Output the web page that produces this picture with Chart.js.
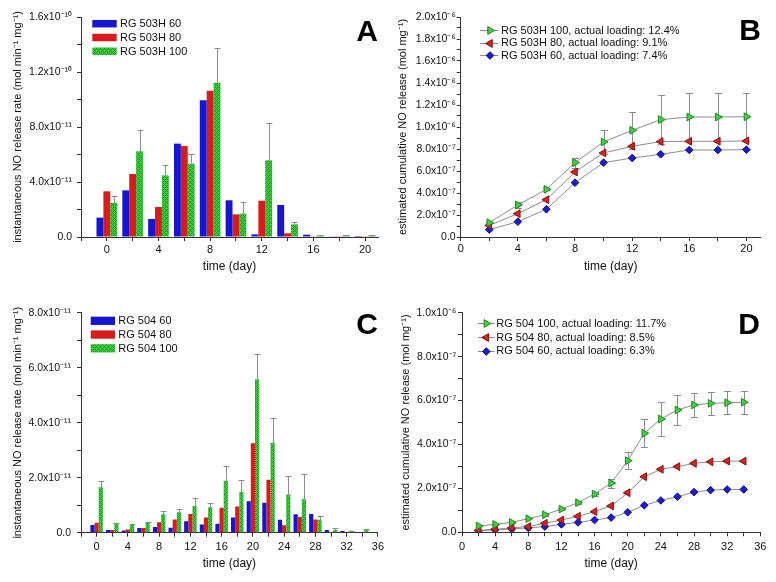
<!DOCTYPE html>
<html>
<head>
<meta charset="utf-8">
<script src="https://cdn.jsdelivr.net/npm/chart.js@4.4.1/dist/chart.umd.min.js"></script>
<style>
html,body{margin:0;padding:0;background:#fff;}
#wrap{position:relative;width:776px;height:582px;overflow:hidden;background:#fff;}
.panel{position:absolute;}
canvas{display:block;}
</style>
</head>
<body>
<div id="wrap">
  <div class="panel" style="left:0;top:0;width:388px;height:290px"><canvas id="cA" width="388" height="290"></canvas></div>
  <div class="panel" style="left:388px;top:0;width:388px;height:290px"><canvas id="cB" width="388" height="290"></canvas></div>
  <div class="panel" style="left:0;top:290px;width:388px;height:292px"><canvas id="cC" width="388" height="292"></canvas></div>
  <div class="panel" style="left:388px;top:290px;width:388px;height:292px"><canvas id="cD" width="388" height="292"></canvas></div>
</div>
<script>
// ---------------- DATA ----------------
// Panel A: instantaneous NO release rate, RG 503H (mol min-1 mg-1)
const daysA = [0, 2, 4, 6, 8, 10, 12, 14, 16, 18, 20];
const rg503h60Rate  = [1.41e-11, 3.39e-11, 1.31e-11, 6.79e-11, 9.94e-11, 2.67e-11, 0.19e-11, 2.33e-11, 0.17e-11, 0.05e-11, 0.07e-11];
const rg503h80Rate  = [3.32e-11, 4.58e-11, 2.18e-11, 6.62e-11, 10.64e-11, 1.65e-11, 2.64e-11, 0.27e-11, 0.05e-11, 0.02e-11, 0.02e-11];
const rg503h100Rate = [2.47e-11, 6.23e-11, 4.48e-11, 5.33e-11, 11.22e-11, 1.70e-11, 5.58e-11, 0.92e-11, 0.10e-11, 0.12e-11, 0.14e-11];
const rg503h100RateErr = [0.49e-11, 1.53e-11, 0.76e-11, 0.73e-11, 2.55e-11, 0.85e-11, 2.71e-11, 0.20e-11, 0.02e-11, 0.03e-11, 0.03e-11];
const labelsA = ['RG 503H 60', 'RG 503H 80', 'RG 503H 100'];

// Panel B: estimated cumulative NO release, RG 503H (mol mg-1)
const daysB = [2, 4, 6, 8, 10, 12, 14, 16, 18, 20];
const rg503h100Cum    = [1.30e-7, 2.91e-7, 4.33e-7, 6.76e-7, 8.64e-7, 9.70e-7, 10.67e-7, 10.91e-7, 10.91e-7, 10.93e-7];
const rg503h100CumErr = [0.05e-7, 0.30e-7, 0.10e-7, 0.46e-7, 1.12e-7, 1.66e-7, 2.24e-7, 2.18e-7, 2.18e-7, 2.18e-7];
const rg503h80Cum     = [1.05e-7, 2.12e-7, 3.39e-7, 5.91e-7, 7.64e-7, 8.25e-7, 8.67e-7, 8.70e-7, 8.70e-7, 8.73e-7];
const rg503h60Cum     = [0.67e-7, 1.39e-7, 2.52e-7, 4.94e-7, 6.76e-7, 7.18e-7, 7.52e-7, 7.91e-7, 7.91e-7, 7.94e-7];
const labelsB = ['RG 503H 100, actual loading: 12.4%', 'RG 503H 80, actual loading: 9.1%', 'RG 503H 60, actual loading: 7.4%'];

// Panel C: instantaneous NO release rate, RG 504 (mol min-1 mg-1)
const daysC = [0, 2, 4, 6, 8, 10, 12, 14, 16, 18, 20, 22, 24, 26, 28, 30, 32, 34];
const rg504_60Rate  = [0.28e-11, 0.10e-11, 0.08e-11, 0.17e-11, 0.21e-11, 0.18e-11, 0.42e-11, 0.30e-11, 0.33e-11, 0.55e-11, 1.14e-11, 1.09e-11, 0.47e-11, 0.67e-11, 0.68e-11, 0.10e-11, 0.06e-11, 0.01e-11];
const rg504_80Rate  = [0.36e-11, 0.10e-11, 0.12e-11, 0.17e-11, 0.38e-11, 0.48e-11, 0.68e-11, 0.55e-11, 0.91e-11, 0.95e-11, 3.25e-11, 1.93e-11, 0.27e-11, 0.57e-11, 0.48e-11, 0.01e-11, 0.02e-11, 0.01e-11];
const rg504_100Rate = [1.65e-11, 0.32e-11, 0.29e-11, 0.35e-11, 0.67e-11, 0.74e-11, 0.97e-11, 0.93e-11, 1.89e-11, 1.48e-11, 5.58e-11, 3.26e-11, 1.39e-11, 1.22e-11, 0.47e-11, 0.10e-11, 0.07e-11, 0.10e-11];
const rg504_100RateErr = [0.24e-11, 0.02e-11, 0.02e-11, 0.05e-11, 0.12e-11, 0.12e-11, 0.28e-11, 0.16e-11, 0.55e-11, 0.44e-11, 0.92e-11, 0.92e-11, 0.67e-11, 0.93e-11, 0.12e-11, 0.06e-11, 0.01e-11, 0.05e-11];
const labelsC = ['RG 504 60', 'RG 504 80', 'RG 504 100'];

// Panel D: estimated cumulative NO release, RG 504 (mol mg-1)
const daysD = [2, 4, 6, 8, 10, 12, 14, 16, 18, 20, 22, 24, 26, 28, 30, 32, 34];
const rg504_100Cum    = [0.29e-7, 0.36e-7, 0.45e-7, 0.62e-7, 0.80e-7, 1.06e-7, 1.35e-7, 1.74e-7, 2.24e-7, 3.26e-7, 4.51e-7, 5.16e-7, 5.57e-7, 5.80e-7, 5.87e-7, 5.90e-7, 5.92e-7];
const rg504_100CumErr = [0.02e-7, 0.02e-7, 0.02e-7, 0.03e-7, 0.04e-7, 0.05e-7, 0.07e-7, 0.08e-7, 0.20e-7, 0.38e-7, 0.63e-7, 0.76e-7, 0.68e-7, 0.53e-7, 0.53e-7, 0.53e-7, 0.53e-7];
const rg504_80Cum     = [0.09e-7, 0.14e-7, 0.20e-7, 0.26e-7, 0.41e-7, 0.56e-7, 0.73e-7, 0.94e-7, 1.20e-7, 1.80e-7, 2.53e-7, 2.87e-7, 2.99e-7, 3.14e-7, 3.21e-7, 3.24e-7, 3.24e-7];
const rg504_60Cum     = [0.06e-7, 0.11e-7, 0.15e-7, 0.20e-7, 0.26e-7, 0.36e-7, 0.45e-7, 0.56e-7, 0.67e-7, 0.91e-7, 1.23e-7, 1.45e-7, 1.62e-7, 1.83e-7, 1.92e-7, 1.95e-7, 1.95e-7];
const labelsD = ['RG 504 100, actual loading: 11.7%', 'RG 504 80, actual loading: 8.5%', 'RG 504 60, actual loading: 6.3%'];

const xTitle = 'time (day)';
const yTitleRate = 'instantaneous NO release rate (mol min\u207B\u00B9 mg\u207B\u00B9)';
const yTitleCum = 'estimated cumulative NO release (mol mg\u207B\u00B9)';

// ---------------- STYLE ----------------
const FONT = "'Liberation Sans', Arial, Helvetica, sans-serif";
const TXT = '#111';
const AXIS = '#333';
const ERRC = '#8c8c8c';
const LINEC = '#8c8c8c';
const BLUE = '#1616d2';
const RED = '#d81c1c';
const MK = {
  green: { fill: '#3ed23e', stroke: '#1f8a1f' },
  red:   { fill: '#d42222', stroke: '#8a1010' },
  blue:  { fill: '#1a1ad8', stroke: '#0a0a80' }
};

function greenPattern() {
  const c = document.createElement('canvas');
  c.width = 4; c.height = 4;
  const g = c.getContext('2d');
  g.fillStyle = '#40cc40';
  g.fillRect(0, 0, 4, 4);
  g.fillStyle = '#1c961c';
  [[0,0],[1,1],[2,2],[3,3],[1,3],[3,1]].forEach(([x, y]) => g.fillRect(x, y, 1, 1));
  return c.getContext('2d').createPattern(c, 'repeat');
}
const GREEN = greenPattern();

const SUP = {'0':'\u2070','1':'\u00B9','2':'\u00B2','3':'\u00B3','4':'\u2074','5':'\u2075','6':'\u2076','7':'\u2077','8':'\u2078','9':'\u2079','-':'\u207B'};
function fmtSci(v) {
  if (Math.abs(v) < 1e-25) return '0.0';
  let e = Math.floor(Math.log10(Math.abs(v)) + 1e-9);
  let ms = (v / Math.pow(10, e)).toFixed(1);
  if (ms === '10.0') { e += 1; ms = '1.0'; }
  return ms + 'x10' + String(e).split('').map(c => SUP[c]).join('');
}
function isMajor(v, major) {
  const r = v / major;
  return Math.abs(r - Math.round(r)) < 1e-6;
}

// ---------------- PLUGINS ----------------
function drawMarker(ctx, ds, x, y) {
  const r = ds.pointRadius;
  ctx.beginPath();
  if (ds.pointStyle === 'triangle' && ds.pointRotation === 90) {
    ctx.moveTo(x + r, y); ctx.lineTo(x - r / 2, y - r * 0.866); ctx.lineTo(x - r / 2, y + r * 0.866);
  } else if (ds.pointStyle === 'triangle') {
    ctx.moveTo(x - r, y); ctx.lineTo(x + r / 2, y - r * 0.866); ctx.lineTo(x + r / 2, y + r * 0.866);
  } else {
    ctx.moveTo(x, y - r); ctx.lineTo(x + r, y); ctx.lineTo(x, y + r); ctx.lineTo(x - r, y);
  }
  ctx.closePath();
  ctx.fillStyle = ds.pointBackgroundColor; ctx.fill();
  ctx.lineWidth = ds.pointBorderWidth; ctx.strokeStyle = ds.pointBorderColor; ctx.stroke();
}

function drawErrors(chart, wantBar) {
  const ctx = chart.ctx;
  const ys = chart.scales.y;
  chart.data.datasets.forEach((ds, di) => {
    if (!ds.errorBars) return;
    const meta = chart.getDatasetMeta(di);
    const isBar = meta.type === 'bar';
    if (isBar !== wantBar) return;
    const cap = isBar ? 3 : 3.5;
    ctx.save();
    ctx.strokeStyle = ERRC; ctx.lineWidth = 1;
    meta.data.forEach((el, i) => {
      const v = ds.data[i].y, e = ds.errorBars[i];
      if (!e) return;
      const x = Math.round(el.x) + 0.5;
      const yt = Math.round(ys.getPixelForValue(v + e)) + 0.5;
      const yb = isBar ? el.y : Math.round(ys.getPixelForValue(v - e)) + 0.5;
      ctx.beginPath();
      ctx.moveTo(x, yt); ctx.lineTo(x, yb);
      ctx.moveTo(x - cap, yt); ctx.lineTo(x + cap, yt);
      if (!isBar) { ctx.moveTo(x - cap, yb); ctx.lineTo(x + cap, yb); }
      ctx.stroke();
    });
    ctx.restore();
  });
}
const errPlugin = {
  id: 'errBars',
  beforeDatasetsDraw(chart) { drawErrors(chart, false); },
  afterDatasetsDraw(chart) { drawErrors(chart, true); }
};

function decorPlugin(p) {
  return {
    id: 'decor',
    afterDraw(chart) {
      const ctx = chart.ctx;
      ctx.save();
      ctx.font = '11px ' + FONT;
      ctx.textBaseline = 'middle';
      ctx.textAlign = 'left';
      chart.data.datasets.forEach((ds, i) => {
        const y = p.legY + i * p.legDy;
        if (p.legKind === 'box') {
          ctx.fillStyle = ds.backgroundColor;
          ctx.fillRect(p.legX, y - p.boxH / 2, p.boxW, p.boxH);
        } else {
          ctx.strokeStyle = LINEC; ctx.lineWidth = 1;
          ctx.beginPath(); ctx.moveTo(p.legX, Math.round(y) + 0.5); ctx.lineTo(p.legX2, Math.round(y) + 0.5); ctx.stroke();
          drawMarker(ctx, ds, p.legM, Math.round(y) + 0.5);
        }
        ctx.fillStyle = TXT;
        ctx.fillText(ds.label, p.legT, y + 0.5);
      });
      ctx.font = 'bold 30px ' + FONT;
      ctx.textAlign = 'right';
      ctx.textBaseline = 'alphabetic';
      ctx.fillStyle = '#000';
      ctx.fillText(p.letter, p.letterX, p.letterY);
      ctx.restore();
    }
  };
}

// ---------------- OPTIONS ----------------
function makeOptions(p) {
  const gridOpts = { display: true, offset: false, drawOnChartArea: false, drawTicks: true, tickLength: 4, color: AXIS, lineWidth: 1 };
  return {
    responsive: false,
    animation: false,
    devicePixelRatio: 1,
    layout: { padding: { left: 0, top: p.top, right: p.right, bottom: 0 } },
    plugins: { legend: { display: false }, tooltip: { enabled: false } },
    scales: {
      x: {
        type: 'linear', min: p.xMin, max: p.xMax, offset: false,
        afterFit: s => { s.height = p.xAxisH; },
        border: { display: true, color: AXIS, width: 1 },
        grid: gridOpts,
        ticks: {
          stepSize: 2, includeBounds: false, autoSkip: false, maxRotation: 0, minRotation: 0,
          padding: p.xTickPad, color: TXT, font: { family: FONT, size: 11 },
          callback: v => (v >= 0 && Math.abs(v % 4) < 1e-9) ? String(v) : ''
        },
        title: { display: true, text: xTitle, color: TXT, font: { family: FONT, size: 12 }, padding: { top: 0, bottom: p.xTitlePad } }
      },
      y: {
        type: 'linear', min: 0, max: p.yMax,
        afterFit: s => { s.width = p.yAxisW; },
        border: { display: true, color: AXIS, width: 1 },
        grid: gridOpts,
        ticks: {
          stepSize: p.yStep, includeBounds: false, autoSkip: false,
          padding: p.yTickPad, color: TXT, font: { family: FONT, size: 10.5 },
          callback: v => isMajor(v, p.yMajor) ? fmtSci(v) : ''
        },
        title: { display: true, text: p.yTitle, color: TXT, font: { family: FONT, size: 11 }, padding: { top: p.yTitlePad, bottom: 0 } }
      }
    }
  };
}

function pts(xs, ys) { return xs.map((x, i) => ({ x: x, y: ys[i] })); }

function barDs(label, xs, ys, color, err) {
  const d = { label: label, data: pts(xs, ys), backgroundColor: color, borderWidth: 0,
    categoryPercentage: 0.8, barPercentage: 1.0 };
  if (err) d.errorBars = err;
  return d;
}
function lineDs(label, xs, ys, mk, style, rot, err) {
  const d = { label: label, data: pts(xs, ys), borderColor: LINEC, borderWidth: 1, tension: 0,
    pointStyle: style, pointRotation: rot, pointRadius: style === 'rectRot' ? 3.8 : 4.5,
    pointBorderWidth: 1, pointBackgroundColor: mk.fill, pointBorderColor: mk.stroke, fill: false };
  if (err) d.errorBars = err;
  return d;
}

// ---------------- CHARTS ----------------
const pA = { top: 17, right: 10, xMin: -2, xMax: 21, xAxisH: 53, xTickPad: 2.4, xTitlePad: 16,
  yMax: 1.6e-10, yStep: 2e-11, yMajor: 4e-11, yAxisW: 81, yTickPad: 5, yTitle: yTitleRate, yTitlePad: 11.4,
  legKind: 'box', legX: 92.3, boxW: 24.4, boxH: 7.5, legY: 23.7, legDy: 13.8, legT: 120,
  letter: 'A', letterX: 378, letterY: 41 };
new Chart(document.getElementById('cA'), {
  type: 'bar',
  data: { datasets: [
    barDs(labelsA[0], daysA, rg503h60Rate, BLUE),
    barDs(labelsA[1], daysA, rg503h80Rate, RED),
    barDs(labelsA[2], daysA, rg503h100Rate, GREEN, rg503h100RateErr)
  ] },
  options: makeOptions(pA),
  plugins: [errPlugin, decorPlugin(pA)]
});

const pB = { top: 17, right: 15.3, xMin: 0, xMax: 21, xAxisH: 53, xTickPad: 1.6, xTitlePad: 16,
  yMax: 2e-6, yStep: 1e-7, yMajor: 2e-7, yAxisW: 72.7, yTickPad: 1, yTitle: yTitleCum, yTitlePad: 8.6,
  legKind: 'marker', legX: 92, legX2: 110.3, legM: 102, legT: 113, legY: 30, legDy: 12.5,
  letter: 'B', letterX: 373, letterY: 39.5 };
new Chart(document.getElementById('cB'), {
  type: 'line',
  data: { datasets: [
    lineDs(labelsB[0], daysB, rg503h100Cum, MK.green, 'triangle', 90, rg503h100CumErr),
    lineDs(labelsB[1], daysB, rg503h80Cum, MK.red, 'triangle', -90),
    lineDs(labelsB[2], daysB, rg503h60Cum, MK.blue, 'rectRot', 0)
  ] },
  options: makeOptions(pB),
  plugins: [errPlugin, decorPlugin(pB)]
});

const pC = { top: 22.7, right: 8, xMin: -2, xMax: 36, xAxisH: 49.3, xTickPad: 4, xTitlePad: 10.8,
  yMax: 8e-11, yStep: 1e-11, yMajor: 2e-11, yAxisW: 81, yTickPad: 6, yTitle: yTitleRate, yTitlePad: 11.7,
  legKind: 'box', legX: 90.7, boxW: 24.3, boxH: 8.3, legY: 30.8, legDy: 13.75, legT: 118.3,
  letter: 'C', letterX: 378, letterY: 43.5 };
new Chart(document.getElementById('cC'), {
  type: 'bar',
  data: { datasets: [
    barDs(labelsC[0], daysC, rg504_60Rate, BLUE),
    barDs(labelsC[1], daysC, rg504_80Rate, RED),
    barDs(labelsC[2], daysC, rg504_100Rate, GREEN, rg504_100RateErr)
  ] },
  options: makeOptions(pC),
  plugins: [errPlugin, decorPlugin(pC)]
});

const pD = { top: 22.7, right: 15.7, xMin: 0, xMax: 36, xAxisH: 49.7, xTickPad: 3.8, xTitlePad: 10.8,
  yMax: 1e-6, yStep: 1e-7, yMajor: 2e-7, yAxisW: 74, yTickPad: 1.7, yTitle: yTitleCum, yTitlePad: 11.7,
  legKind: 'marker', legX: 90, legX2: 106.7, legM: 98.3, legT: 108.3, legY: 33.3, legDy: 13.8,
  letter: 'D', letterX: 372, letterY: 44 };
new Chart(document.getElementById('cD'), {
  type: 'line',
  data: { datasets: [
    lineDs(labelsD[0], daysD, rg504_100Cum, MK.green, 'triangle', 90, rg504_100CumErr),
    lineDs(labelsD[1], daysD, rg504_80Cum, MK.red, 'triangle', -90),
    lineDs(labelsD[2], daysD, rg504_60Cum, MK.blue, 'rectRot', 0)
  ] },
  options: makeOptions(pD),
  plugins: [errPlugin, decorPlugin(pD)]
});
</script>
</body>
</html>
